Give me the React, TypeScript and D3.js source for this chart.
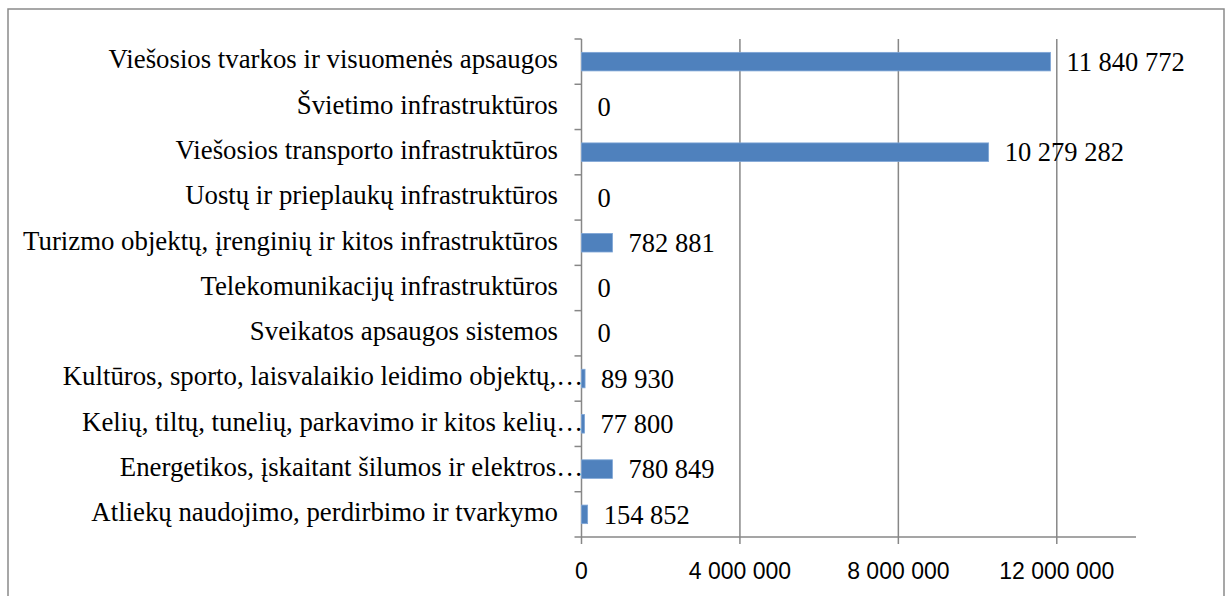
import React, { useEffect, useRef } from "react";
import * as d3 from "d3";

const categories: string[] = [
  "Viešosios tvarkos ir visuomenės apsaugos",
  "Švietimo infrastruktūros",
  "Viešosios transporto infrastruktūros",
  "Uostų ir prieplaukų infrastruktūros",
  "Turizmo objektų, įrenginių ir kitos infrastruktūros",
  "Telekomunikacijų infrastruktūros",
  "Sveikatos apsaugos sistemos",
  "Kultūros, sporto, laisvalaikio leidimo objektų,…",
  "Kelių, tiltų, tunelių, parkavimo ir kitos kelių…",
  "Energetikos, įskaitant šilumos ir elektros…",
  "Atliekų naudojimo, perdirbimo ir tvarkymo",
];

const values: number[] = [
  11840772, 0, 10279282, 0, 782881, 0, 0, 89930, 77800, 780849, 154852,
];

const xTicks: number[] = [0, 4000000, 8000000, 12000000];
const xMax = 14000000;

const W = 1225;
const H = 596;
const margin = { left: 581.5, right: 1136, top: 39, bottom: 537 };

const fmt = (v: number) =>
  Math.round(v)
    .toString()
    .replace(/\B(?=(\d{3})+(?!\d))/g, " ");

export default function App() {
  const ref = useRef<SVGSVGElement | null>(null);

  useEffect(() => {
    const svg = d3.select(ref.current);
    svg.selectAll("*").remove();

    const x = d3.scaleLinear().domain([0, xMax]).range([margin.left, margin.right]);
    const y = d3
      .scaleBand<string>()
      .domain(categories)
      .range([margin.top, margin.bottom])
      .padding(0);
    const bw = y.bandwidth();
    const barH = bw * 0.41;
    const grid = "#878787";

    svg.append("rect").attr("x", 0).attr("y", 0).attr("width", W).attr("height", H).attr("fill", "#fff");
    svg
      .append("rect")
      .attr("x", 8)
      .attr("y", 9)
      .attr("width", 1216)
      .attr("height", 620)
      .attr("fill", "none")
      .attr("stroke", "#8a8a8a")
      .attr("stroke-width", 1.5);

    svg
      .selectAll("line.grid")
      .data(xTicks.filter((t) => t > 0))
      .enter()
      .append("line")
      .attr("x1", (d) => x(d))
      .attr("x2", (d) => x(d))
      .attr("y1", margin.top)
      .attr("y2", margin.bottom + 7)
      .attr("stroke", grid)
      .attr("stroke-width", 1.5);

    svg
      .append("line")
      .attr("x1", margin.left - 7)
      .attr("x2", margin.right)
      .attr("y1", margin.bottom)
      .attr("y2", margin.bottom)
      .attr("stroke", grid)
      .attr("stroke-width", 1.5);
    svg
      .append("line")
      .attr("x1", x(0))
      .attr("x2", x(0))
      .attr("y1", margin.top)
      .attr("y2", margin.bottom + 7)
      .attr("stroke", grid)
      .attr("stroke-width", 1.5);

    const bounds = categories.map((c) => y(c) as number);
    svg
      .selectAll("line.ytick")
      .data(bounds)
      .enter()
      .append("line")
      .attr("x1", margin.left - 7)
      .attr("x2", margin.left)
      .attr("y1", (d) => d)
      .attr("y2", (d) => d)
      .attr("stroke", grid)
      .attr("stroke-width", 1.5);

    svg
      .selectAll("text.xt")
      .data(xTicks)
      .enter()
      .append("text")
      .attr("x", (d) => x(d))
      .attr("y", 578.5)
      .attr("text-anchor", "middle")
      .attr("font-family", "'Liberation Sans', Arial, sans-serif")
      .attr("font-size", 23)
      .attr("fill", "#000")
      .text((d) => fmt(d));

    svg
      .selectAll("rect.bar")
      .data(values)
      .enter()
      .append("rect")
      .attr("x", x(0))
      .attr("y", (_, i) => (y(categories[i]) as number) + bw / 2 - barH / 2)
      .attr("width", (d) => Math.max(0, x(d) - x(0)))
      .attr("height", barH)
      .attr("fill", "#4f81bd")
      .attr("stroke", (d) => (d > 0 ? "#7fa6d6" : "none"))
      .attr("stroke-width", 0.8);

    svg
      .selectAll("text.val")
      .data(values)
      .enter()
      .append("text")
      .attr("x", (d) => x(d) + 16)
      .attr("y", (_, i) => (y(categories[i]) as number) + bw / 2 + 9.2)
      .attr("font-family", "'Liberation Serif', 'Times New Roman', serif")
      .attr("font-size", 26.5)
      .attr("fill", "#000")
      .text((d) => fmt(d));

    svg
      .selectAll("text.cat")
      .data(categories)
      .enter()
      .append("text")
      .attr("x", (d) => (d.endsWith("…") ? 583 : 558))
      .attr("y", (d) => (y(d) as number) + bw / 2 + 6.8)
      .attr("text-anchor", "end")
      .attr("font-family", "'Liberation Serif', 'Times New Roman', serif")
      .attr("font-size", 26.8)
      .attr("fill", "#000")
      .text((d) => d);
  }, []);

  return (
    <svg
      ref={ref}
      width={W}
      height={H}
      style={{ position: "absolute", left: 0, top: 0, display: "block" }}
    />
  );
}
